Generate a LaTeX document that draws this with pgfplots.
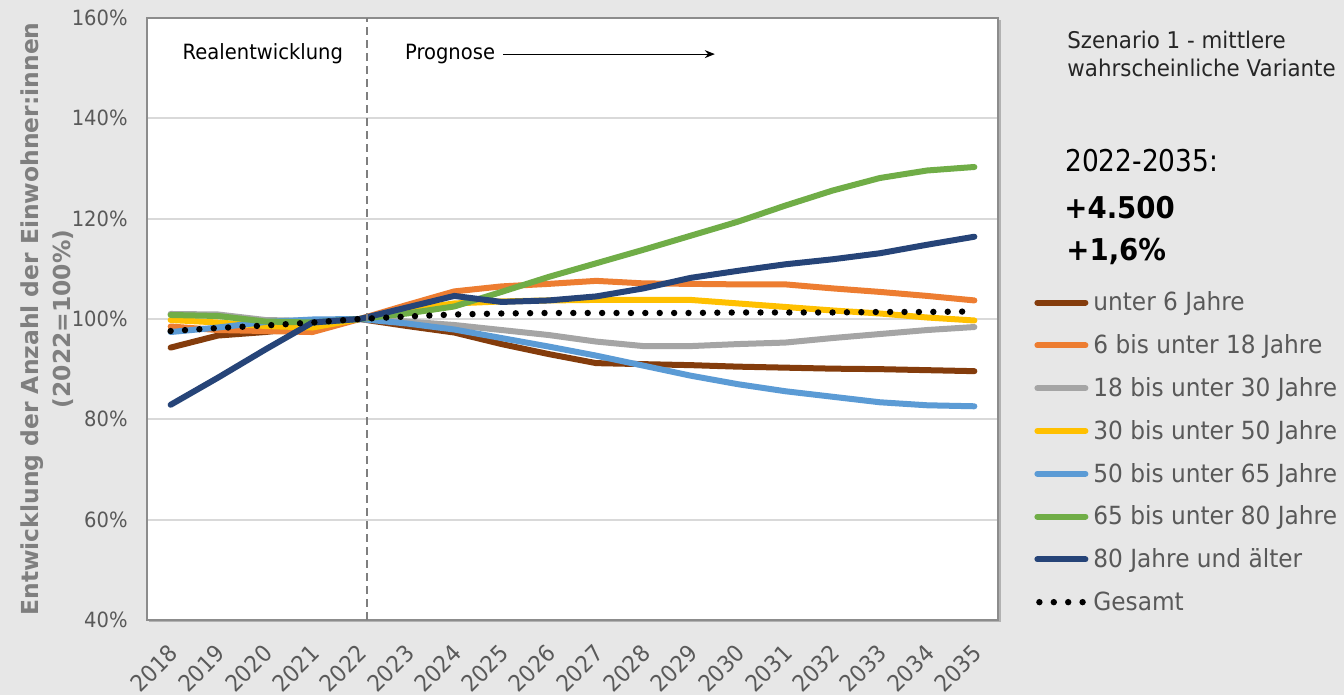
\documentclass[border=0pt]{standalone}
\usepackage{pgfplots}
\pgfplotsset{compat=1.18}
\usepackage{pgfplotstable}
\usepackage{fontspec}
\setmainfont{DejaVu Sans}[FakeStretch=0.93]
\newfontfamily\labfont{DejaVu Sans}
\newfontfamily\numfont{DejaVu Sans}[FakeStretch=0.88]
\newfontfamily\numboldfont{DejaVu Sans}[FakeStretch=0.92]
\usetikzlibrary{arrows.meta}

\definecolor{bgc}{HTML}{E7E7E7}
\definecolor{tickc}{HTML}{595959}
\definecolor{labc}{HTML}{7F7F7F}
\definecolor{gridc}{HTML}{D9D9D9}
\definecolor{cbrown}{HTML}{843C0C}
\definecolor{corange}{HTML}{ED7D31}
\definecolor{cgray}{HTML}{A5A5A5}
\definecolor{cyellow}{HTML}{FFC000}
\definecolor{cblue}{HTML}{5B9BD5}
\definecolor{cgreen}{HTML}{70AD47}
\definecolor{cnavy}{HTML}{264478}

% index values, 2022 = 100
\pgfplotstableread{
year  u6    b618  b1830 b3050 b5065 b6580 a80   ges
2018  94.3  98.5  101.0 99.8  97.4  100.8 82.9  97.6
2019  96.7  97.8  100.9 99.3  98.3  100.6 88.3  98.2
2020  97.4  97.6  99.8  98.6  99.4  99.5  93.9  98.7
2021  98.4  97.4  99.6  98.3  99.9  99.3  99.3  99.3
2022  100   100   100   100   100   100   100   100
2023  98.6  102.8 99.5  101.8 99.1  101.1 102.3 100.5
2024  97.3  105.5 98.8  103.1 97.9  102.5 104.6 100.9
2025  95.0  106.5 97.8  103.5 96.2  105.4 103.4 101.1
2026  93.0  107.0 96.8  103.7 94.5  108.4 103.7 101.2
2027  91.2  107.6 95.5  103.8 92.7  111.1 104.5 101.2
2028  91.0  107.1 94.6  103.8 90.7  113.8 106.1 101.2
2029  90.8  107.0 94.6  103.8 88.7  116.6 108.2 101.2
2030  90.5  106.9 95.0  103.1 87.0  119.4 109.6 101.3
2031  90.3  106.9 95.3  102.4 85.6  122.6 110.9 101.3
2032  90.1  106.1 96.2  101.7 84.5  125.6 111.9 101.3
2033  90.0  105.4 97.0  101.1 83.4  128.1 113.1 101.4
2034  89.8  104.6 97.8  100.3 82.8  129.6 114.8 101.4
2035  89.6  103.7 98.4  99.7  82.6  130.3 116.4 101.5
}\data

\pgfplotsset{dotlegend/.style={legend image code/.code={\draw[##1, line cap=round] (1pt,1.2pt) -- (23pt,1.2pt);}}}

\begin{document}
\begin{tikzpicture}
\fill[bgc] (0,0) rectangle (672pt,347.5pt);
% shadow of the plot area
\fill[black!30] (74.5pt,36.3pt) rectangle (500.3pt,337.5pt);

\begin{axis}[
  at={(73.5pt,37.5pt)}, anchor=south west,
  scale only axis, width=425.5pt, height=301pt,
  xmin=2017.5, xmax=2035.5,
  ymin=40, ymax=160,
  xtick={2018,...,2035},
  ytick={40,60,...,160},
  /pgf/number format/assume math mode=true,
  /pgf/number format/1000 sep={},
  yticklabel={\pgfmathprintnumber{\tick}\%},
  major tick length=0pt,
  axis background/.style={fill=white},
  axis line style={draw=black!45, line width=0.6pt},
  ymajorgrids, major grid style={draw=gridc, line width=0.9pt},
  tick label style={font=\fontsize{10.5}{12}\selectfont, text=tickc},
  yticklabel style={inner sep=0pt, xshift=-9.5pt},
  xticklabel style={font=\fontsize{11.5}{13}\selectfont, inner sep=0pt,
    xshift=1.5pt, yshift=-14.5pt, rotate=45, anchor=east},
  ylabel={Entwicklung der Anzahl der Einwohner:innen\\(2022=100\%)},
  ylabel style={at={(axis description cs:-0.1175,0.5)}, anchor=center, align=center,
    font=\labfont\fontsize{11.7}{16}\selectfont\bfseries, text=labc},
  legend style={at={(axis description cs:1.0423,0.5406)}, anchor=north west,
    draw=none, fill=none, inner sep=0pt, column sep=2.5pt,
    font=\fontsize{12.5}{14}\selectfont, text=tickc,
    nodes={inner sep=0pt, anchor=west, text height=8pt, text depth=2pt},
    row sep=11.4pt},
  legend cell align=left,
  legend image code/.code={\draw[#1, line cap=round] (0pt,1.2pt) -- (24pt,1.2pt);},
  every axis plot/.append style={line width=3pt, line join=round, line cap=round},
  clip=false,
]
\addplot[cbrown]  table[x=year, y=u6]    {\data};
\addlegendentry{unter 6 Jahre}
\addplot[corange] table[x=year, y=b618]  {\data};
\addlegendentry{6 bis unter 18 Jahre}
\addplot[cgray]   table[x=year, y=b1830] {\data};
\addlegendentry{18 bis unter 30 Jahre}
\addplot[cyellow] table[x=year, y=b3050] {\data};
\addlegendentry{30 bis unter 50 Jahre}
\addplot[cblue]   table[x=year, y=b5065] {\data};
\addlegendentry{50 bis unter 65 Jahre}
\addplot[cgreen]  table[x=year, y=b6580] {\data};
\addlegendentry{65 bis unter 80 Jahre}
\addplot[cnavy]   table[x=year, y=a80]   {\data};
\addlegendentry{80 Jahre und älter}
\addplot[black, line width=3.2pt, dash pattern=on 0pt off 7.2pt, dotlegend]
  table[x=year, y=ges] {\data};
\addlegendentry{Gesamt}

% boundary between observed and projected values
\draw[labc, line width=1.1pt, dash pattern=on 4pt off 2.5pt]
  (axis cs:2022.15,40) -- (axis cs:2022.15,160);
\node[font=\fontsize{10.5}{12}\selectfont] at (axis cs:2019.95,152.8) {Realentwicklung};
\node[font=\fontsize{10.5}{12}\selectfont] at (axis cs:2023.91,152.8) {Prognose};
\draw[-{Stealth[length=5pt,width=4pt]}, line width=0.6pt]
  (axis cs:2025.03,152.8) -- (axis cs:2029.51,152.8);
\end{axis}

\node[anchor=west, inner sep=0pt, font=\fontsize{11.5}{14}\selectfont, text=black!85] at (533.5pt,327.5pt) {Szenario 1 - mittlere};
\node[anchor=west, inner sep=0pt, font=\fontsize{11.5}{14}\selectfont, text=black!85] at (533.5pt,313.5pt) {wahrscheinliche Variante};
\node[anchor=west, inner sep=0pt, font=\numfont\fontsize{15}{18}\selectfont] at (532.5pt,267pt) {2022-2035:};
\node[anchor=west, inner sep=0pt, font=\numboldfont\fontsize{15}{18}\selectfont\bfseries] at (532pt,243.5pt) {+4.500};
\node[anchor=west, inner sep=0pt, font=\numboldfont\fontsize{15}{18}\selectfont\bfseries] at (533pt,221.5pt) {+1,6\%};

\pgfresetboundingbox
\useasboundingbox (0,0) rectangle (672pt,347.5pt);
\end{tikzpicture}
\end{document}
